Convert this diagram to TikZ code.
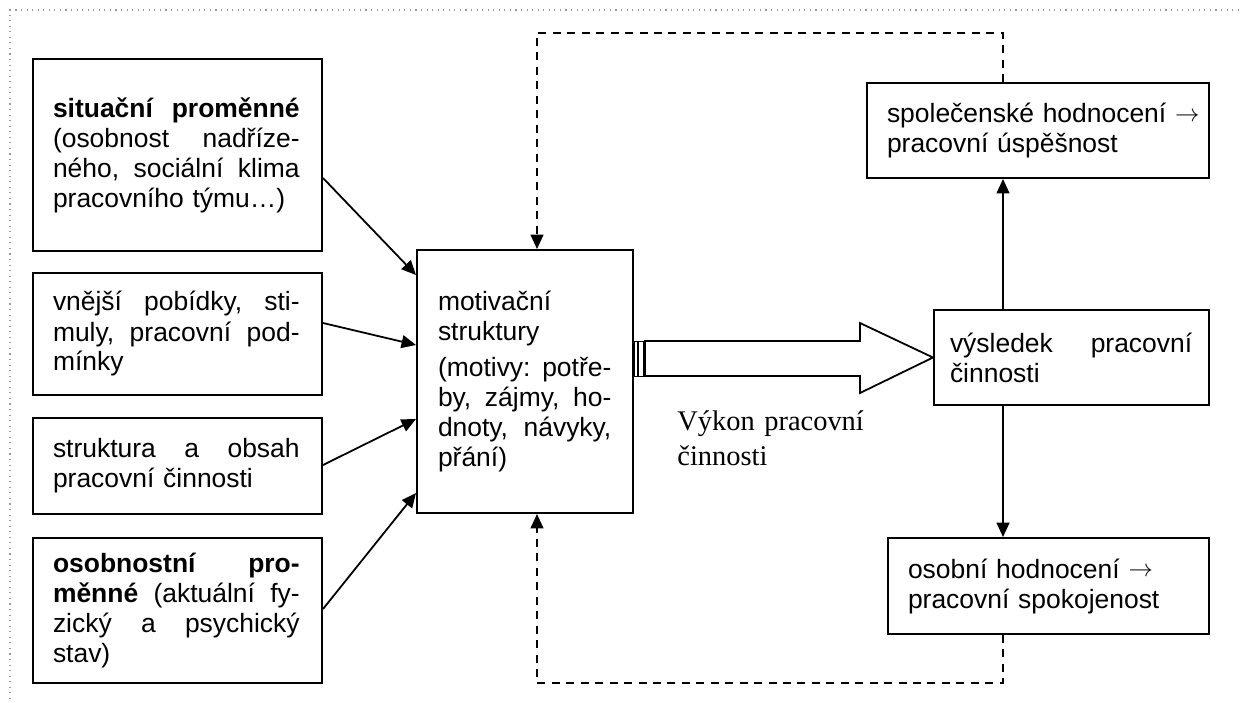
\documentclass[tikz,border=0pt]{standalone}
\usepackage{fontspec}
\setmainfont{Liberation Sans}
\newfontfamily\serifvyk{Liberation Serif}
\usetikzlibrary{arrows.meta}
\newcommand\jline[2]{\leavevmode\hbox to #1{\frenchspacing\spaceskip=0.278em plus 1fil\relax #2}}
\newcommand\rarr{\raisebox{0.6pt}{\fontsize{10.5pt}{10.5pt}\selectfont$\rightarrow$}}
\begin{document}
\begin{tikzpicture}[x=0.45pt,y=-0.45pt,
  box/.style={draw, line width=0.9pt, inner xsep=9pt, inner ysep=0pt, align=left,
    font=\fontsize{11.9pt}{13.5pt}\selectfont},
  conn/.style={line width=0.8pt, -{Triangle[length=6.5pt,width=5.8pt]}},
  fb/.style={conn, dash pattern=on 3.6pt off 2.9pt},
  bigarrow/.style={draw, line width=0.8pt, fill=white},
  stripe/.style={draw, line width=0.4pt},
  frame/.style={draw=black!40, dotted, line width=0.5pt}]
\useasboundingbox (0,0) rectangle (1247,702);
\draw[frame] (10,699) -- (10,10) -- (1243,10);

% left boxes
\node[box, text width=112.05pt, minimum height=86.4pt] (b1) at (177.5,155)
 {\jline{111pt}{\textbf{situační proměnné}}\\
  \jline{111pt}{(osobnost nadříze-}\\
  \jline{111pt}{ného, sociální klima}\\
  pracovního týmu…)};
\node[box, text width=112.05pt, minimum height=54.9pt] (b2) at (177.5,334)
 {\jline{111pt}{vnější pobídky, sti-}\\
  \jline{111pt}{muly, pracovní pod-}\\
  mínky};
\node[box, text width=112.05pt, minimum height=43.2pt] (b3) at (177.5,466)
 {\jline{111pt}{struktura a obsah}\\
  pracovní činnosti};
\node[box, text width=112.05pt, minimum height=65.25pt] (b4) at (177.5,610.5)
 {\jline{111pt}{\textbf{osobnostní pro-}}\\
  \jline{111pt}{\textbf{měnné} (aktuální fy-}\\
  \jline{111pt}{zický a psychický}\\
  stav)};

% central box
\node[box, inner xsep=9.45pt, text width=78.3pt, minimum height=118.35pt] (motiv) at (525,381.5)
 {motivační\\
  struktury\\[3pt]
  \jline{78pt}{(motivy: potře-}\\
  \jline{78pt}{by, zájmy, ho-}\\
  \jline{78pt}{dnoty, návyky,}\\
  přání)};

% right boxes
\node[box, inner xsep=9pt, text width=135.9pt, minimum height=42.75pt] (spol) at (1038,130.5)
 {\mbox{společenské hodnocení \rarr}\\
  pracovní úspěšnost};
\node[box, inner xsep=7.2pt, text width=109.35pt, minimum height=42.75pt] (res) at (1071.5,357.5)
 {\jline{109pt}{výsledek pracovní}\\
  činnosti};
\node[box, inner xsep=9pt, text width=126.45pt, minimum height=43.2pt] (osob) at (1048.5,586)
 {\mbox{osobní hodnocení \rarr}\\
  pracovní spokojenost};

% label
\node[anchor=north west, inner sep=0pt, text width=95pt, align=left,
  font=\serifvyk\fontsize{12.8pt}{15.75pt}\selectfont] (lbl) at (677,410.5)
 {Výkon pracovní\\činnosti};

% helper x positions
\coordinate (xr) at (1003,0);
\coordinate (xm) at (537,0);

% input arrows
\draw[conn] (b1.east |- 0,178) -- (motiv.west |- 0,275);
\draw[conn] (b2.east |- 0,323) -- (motiv.west |- 0,345);
\draw[conn] (b3.east |- 0,465) -- (motiv.west |- 0,419);
\draw[conn] (b4.east |- 0,609) -- (motiv.west |- 0,493);

% striped block arrow
\draw[stripe] (motiv.east |- 0,341) rectangle (637,376);
\draw[stripe] (638.5,341) rectangle (643,376);
\draw[bigarrow] (645,341) -- (860,341) -- (860,323) -- (res.west) -- (860,393)
  -- (860,376) -- (645,376) -- cycle;

% vertical arrows
\draw[conn] (res.north -| xr) -- (spol.south -| xr);
\draw[conn] (res.south -| xr) -- (osob.north -| xr);

% feedback loops
\draw[fb] (spol.north -| xr) -- (xr |- 0,33) -- (xm |- 0,33) -- (motiv.north -| xm);
\draw[fb] (osob.south -| xr) -- (xr |- 0,683) -- (xm |- 0,683) -- (motiv.south -| xm);
\end{tikzpicture}
\end{document}
